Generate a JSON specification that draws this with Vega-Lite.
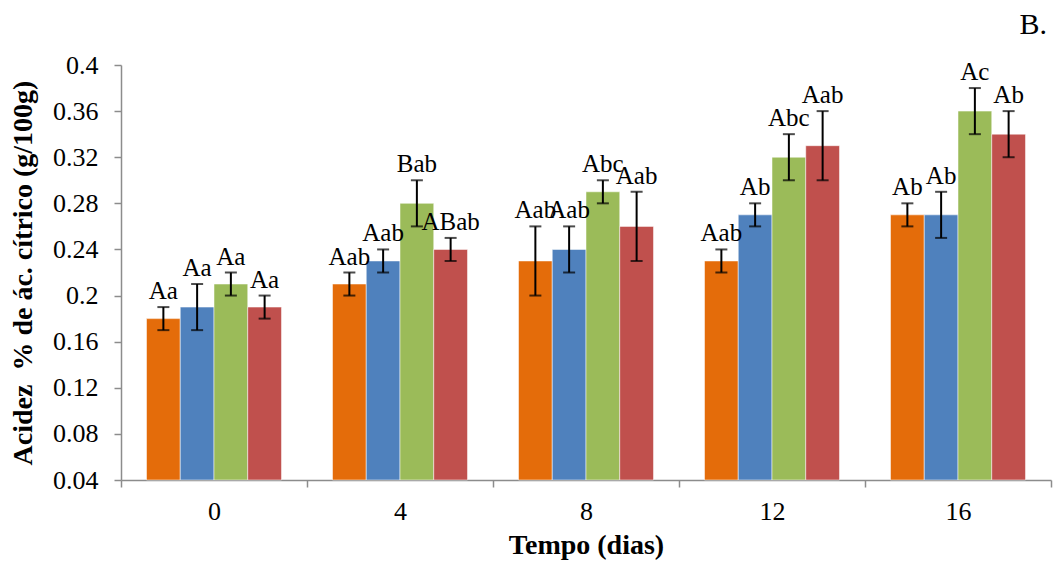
{
  "$schema": "https://vega.github.io/schema/vega-lite/v6.json",
  "width": 930,
  "height": 415,
  "autosize": "none",
  "padding": {"left": 121, "top": 65, "right": 6, "bottom": 89},
  "title": {"text": "B.", "anchor": "end", "frame": "group", "font": "Liberation Serif", "fontSize": 30, "fontWeight": "normal", "color": "#000000", "baseline": "bottom", "offset": 0, "dx": -4, "dy": 18},
  "config": {
    "view": {"stroke": null},
    "font": "Liberation Serif",
    "axis": {"labelFont": "Liberation Serif", "titleFont": "Liberation Serif", "labelColor": "#000000", "titleColor": "#000000", "domainColor": "#8c8c8c", "tickColor": "#8c8c8c", "domainWidth": 1.5, "tickWidth": 1.5, "grid": false}
  },
  "data": {
    "values": [
      {"dia": "0", "trat": "T1", "valor": 0.18, "lo": 0.17, "hi": 0.19, "letra": "Aa"},
      {"dia": "0", "trat": "T2", "valor": 0.19, "lo": 0.17, "hi": 0.21, "letra": "Aa"},
      {"dia": "0", "trat": "T3", "valor": 0.21, "lo": 0.20, "hi": 0.22, "letra": "Aa"},
      {"dia": "0", "trat": "T4", "valor": 0.19, "lo": 0.18, "hi": 0.20, "letra": "Aa"},
      {"dia": "4", "trat": "T1", "valor": 0.21, "lo": 0.20, "hi": 0.22, "letra": "Aab"},
      {"dia": "4", "trat": "T2", "valor": 0.23, "lo": 0.22, "hi": 0.24, "letra": "Aab"},
      {"dia": "4", "trat": "T3", "valor": 0.28, "lo": 0.26, "hi": 0.30, "letra": "Bab"},
      {"dia": "4", "trat": "T4", "valor": 0.24, "lo": 0.23, "hi": 0.25, "letra": "ABab"},
      {"dia": "8", "trat": "T1", "valor": 0.23, "lo": 0.20, "hi": 0.26, "letra": "Aab"},
      {"dia": "8", "trat": "T2", "valor": 0.24, "lo": 0.22, "hi": 0.26, "letra": "Aab"},
      {"dia": "8", "trat": "T3", "valor": 0.29, "lo": 0.28, "hi": 0.30, "letra": "Abc"},
      {"dia": "8", "trat": "T4", "valor": 0.26, "lo": 0.23, "hi": 0.29, "letra": "Aab"},
      {"dia": "12", "trat": "T1", "valor": 0.23, "lo": 0.22, "hi": 0.24, "letra": "Aab"},
      {"dia": "12", "trat": "T2", "valor": 0.27, "lo": 0.26, "hi": 0.28, "letra": "Ab"},
      {"dia": "12", "trat": "T3", "valor": 0.32, "lo": 0.30, "hi": 0.34, "letra": "Abc"},
      {"dia": "12", "trat": "T4", "valor": 0.33, "lo": 0.30, "hi": 0.36, "letra": "Aab"},
      {"dia": "16", "trat": "T1", "valor": 0.27, "lo": 0.26, "hi": 0.28, "letra": "Ab"},
      {"dia": "16", "trat": "T2", "valor": 0.27, "lo": 0.25, "hi": 0.29, "letra": "Ab"},
      {"dia": "16", "trat": "T3", "valor": 0.36, "lo": 0.34, "hi": 0.38, "letra": "Ac"},
      {"dia": "16", "trat": "T4", "valor": 0.34, "lo": 0.32, "hi": 0.36, "letra": "Ab"}
    ]
  },
  "encoding": {
    "x": {
      "field": "dia", "type": "ordinal", "sort": ["0", "4", "8", "12", "16"],
      "scale": {"paddingInner": 0, "paddingOuter": 0},
      "axis": {"title": "Tempo (dias)", "labelAngle": 0, "tickBand": "extent", "tickSize": 7, "labelFontSize": 26, "labelPadding": 11, "titleFontSize": 28, "titleFontWeight": "bold", "titlePadding": 7}
    },
    "xOffset": {"field": "trat", "type": "nominal", "sort": ["T1", "T2", "T3", "T4"], "scale": {"paddingInner": 0, "paddingOuter": 0.7556}}
  },
  "layer": [
    {
      "mark": {"type": "bar", "stroke": "#ffffff", "strokeOpacity": 0.5, "strokeWidth": 1},
      "encoding": {
        "y": {
          "field": "valor", "type": "quantitative",
          "scale": {"domain": [0.04, 0.4], "nice": false, "zero": false},
          "axis": {"title": "Acidez\u00a0 % de ác. cítrico (g/100g)", "values": [0.04, 0.08, 0.12, 0.16, 0.2, 0.24, 0.28, 0.32, 0.36, 0.4], "format": ".2~f", "tickSize": 7, "labelFontSize": 26, "labelPadding": 16, "titleFontSize": 28, "titleFontWeight": "bold", "titlePadding": 15}
        },
        "y2": {"datum": 0.04},
        "color": {"field": "trat", "type": "nominal", "legend": null, "scale": {"domain": ["T1", "T2", "T3", "T4"], "range": ["#E46C0A", "#4F81BD", "#9BBB59", "#C0504D"]}}
      }
    },
    {
      "mark": {"type": "rule", "color": "#000000", "strokeWidth": 2},
      "encoding": {
        "y": {"field": "lo", "type": "quantitative"},
        "y2": {"field": "hi"}
      }
    },
    {
      "mark": {"type": "tick", "color": "#000000", "thickness": 2, "size": 12, "orient": "horizontal"},
      "encoding": {"y": {"field": "lo", "type": "quantitative"}}
    },
    {
      "mark": {"type": "tick", "color": "#000000", "thickness": 2, "size": 12, "orient": "horizontal"},
      "encoding": {"y": {"field": "hi", "type": "quantitative"}}
    },
    {
      "mark": {"type": "text", "font": "Liberation Serif", "fontSize": 25, "color": "#000000", "baseline": "alphabetic", "dy": -8},
      "encoding": {
        "y": {"field": "hi", "type": "quantitative"},
        "text": {"field": "letra"}
      }
    }
  ]
}
